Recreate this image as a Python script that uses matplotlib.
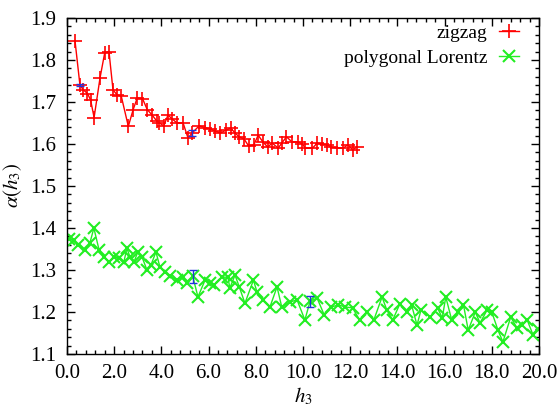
import matplotlib
matplotlib.use("Agg")
import matplotlib.pyplot as plt
from matplotlib.ticker import MultipleLocator, FormatStrFormatter

plt.rcParams['font.family'] = ['Liberation Serif', 'DejaVu Serif']
plt.rcParams['mathtext.fontset'] = 'stix'

zig_x = [0.34, 0.55, 0.69, 0.87, 1.0, 1.15, 1.4, 1.6, 1.78, 1.95, 2.12, 2.3, 2.6, 2.8, 2.98,
         3.2, 3.4, 3.62, 3.8, 3.92, 4.1, 4.28, 4.45, 4.66, 4.92, 5.13, 5.3, 5.6, 5.85, 6.06,
         6.27, 6.5, 6.74, 6.94, 7.12, 7.3, 7.5, 7.7, 7.92, 8.1, 8.3, 8.5, 8.7, 8.95, 9.1,
         9.3, 9.53, 9.8, 9.97, 10.1, 10.4, 10.6, 10.8, 11.0, 11.2, 11.45, 11.7, 11.9, 12.1, 12.3]
zig_y = [1.846, 1.74, 1.729, 1.72, 1.705, 1.663, 1.757, 1.817, 1.82, 1.729, 1.717, 1.714, 1.642, 1.681, 1.71,
         1.708, 1.682, 1.668, 1.655, 1.65, 1.643, 1.669, 1.66, 1.65, 1.65, 1.614, 1.626, 1.643, 1.639, 1.636,
         1.631, 1.626, 1.633, 1.638, 1.626, 1.617, 1.612, 1.595, 1.598, 1.621, 1.605, 1.593, 1.602, 1.59, 1.602,
         1.617, 1.605, 1.605, 1.6, 1.59, 1.59, 1.602, 1.6, 1.598, 1.593, 1.59, 1.59, 1.598, 1.586, 1.593]

pol_x = [0.1, 0.28, 0.47, 0.76, 0.97, 1.14, 1.36, 1.57, 1.78, 2.0, 2.2, 2.41, 2.54, 2.67, 2.84,
         3.0, 3.18, 3.39, 3.56, 3.77, 3.94, 4.15, 4.36, 4.66, 4.9, 5.1, 5.33, 5.55, 5.85, 6.05,
         6.23, 6.57, 6.82, 6.9, 7.12, 7.3, 7.54, 7.9, 8.05, 8.3, 8.6, 8.9, 9.1, 9.45, 9.75,
         10.08, 10.3, 10.6, 10.9, 11.2, 11.5, 11.8, 12.1, 12.4, 12.7, 13.0, 13.35, 13.55, 13.8, 14.1,
         14.4, 14.6, 14.83, 15.0, 15.4, 15.7, 15.9, 16.05, 16.3, 16.57, 16.8, 17.0, 17.3, 17.5, 17.8,
         18.0, 18.26, 18.47, 18.8, 19.07, 19.28, 19.5, 19.75, 19.95]
pol_y = [1.375, 1.371, 1.36, 1.348, 1.364, 1.4, 1.348, 1.331, 1.319, 1.331, 1.329, 1.319, 1.352, 1.331, 1.319,
         1.343, 1.331, 1.3, 1.312, 1.343, 1.307, 1.295, 1.286, 1.276, 1.283, 1.27, 1.285, 1.236, 1.276, 1.27,
         1.264, 1.283, 1.283, 1.257, 1.288, 1.26, 1.221, 1.276, 1.248, 1.229, 1.212, 1.26, 1.212, 1.224, 1.229,
         1.181, 1.226, 1.233, 1.193, 1.212, 1.217, 1.212, 1.21, 1.181, 1.2, 1.181, 1.236, 1.205, 1.181, 1.219,
         1.2, 1.217, 1.169, 1.205, 1.188, 1.21, 1.186, 1.236, 1.181, 1.2, 1.217, 1.157, 1.2, 1.174, 1.205,
         1.2, 1.157, 1.129, 1.188, 1.162, 1.169, 1.181, 1.145, 1.16]

err_x = [0.55, 5.3, 5.33, 10.3]
err_y = [1.74, 1.626, 1.285, 1.226]
err_e = [0.003, 0.008, 0.015, 0.013]

fig = plt.figure(figsize=(5.58, 4.07), dpi=100)
ax = fig.add_axes([0.12, 0.130, 0.846, 0.826])

ax.plot(zig_x, zig_y, color='#ff0000', lw=1.0, marker='+', ms=10, mew=1.2, label='zigzag')
ax.plot(pol_x, pol_y, color='#22ee22', lw=1.0, marker='x', ms=8.5, mew=1.5, label='polygonal Lorentz')
ax.errorbar(err_x, err_y, yerr=err_e, fmt='none', ecolor='#2233dd', elinewidth=1.0, capsize=3, capthick=1.0)

ax.set_xlim(0, 20)
ax.set_ylim(1.1, 1.9)
ax.xaxis.set_major_locator(MultipleLocator(2))
ax.xaxis.set_minor_locator(MultipleLocator(0.4))
ax.yaxis.set_major_locator(MultipleLocator(0.1))
ax.yaxis.set_minor_locator(MultipleLocator(0.02))
ax.xaxis.set_major_formatter(FormatStrFormatter('%.1f'))
ax.yaxis.set_major_formatter(FormatStrFormatter('%.1f'))
ax.tick_params(which='both', direction='in', top=True, right=True, labelsize=15, colors='black')
ax.tick_params(which='major', length=6, width=1)
ax.tick_params(which='minor', length=3, width=1)
ax.tick_params(axis='x', which='major', pad=7)
ax.tick_params(axis='y', which='major', pad=8)
for s in ax.spines.values():
    s.set_linewidth(1.0)

ax.set_xlabel('$h_3$', fontsize=15, labelpad=2)
ax.set_ylabel(r'$\alpha(h_3)$', fontsize=15, labelpad=4)

leg = ax.legend(loc='upper right', bbox_to_anchor=(0.957, 0.98), frameon=False, markerfirst=False,
                fontsize=14, handlelength=1.0, borderaxespad=0.0, borderpad=0.0, handletextpad=0.6,
                labelspacing=0.35)

fig.savefig('out.png', dpi=100)
